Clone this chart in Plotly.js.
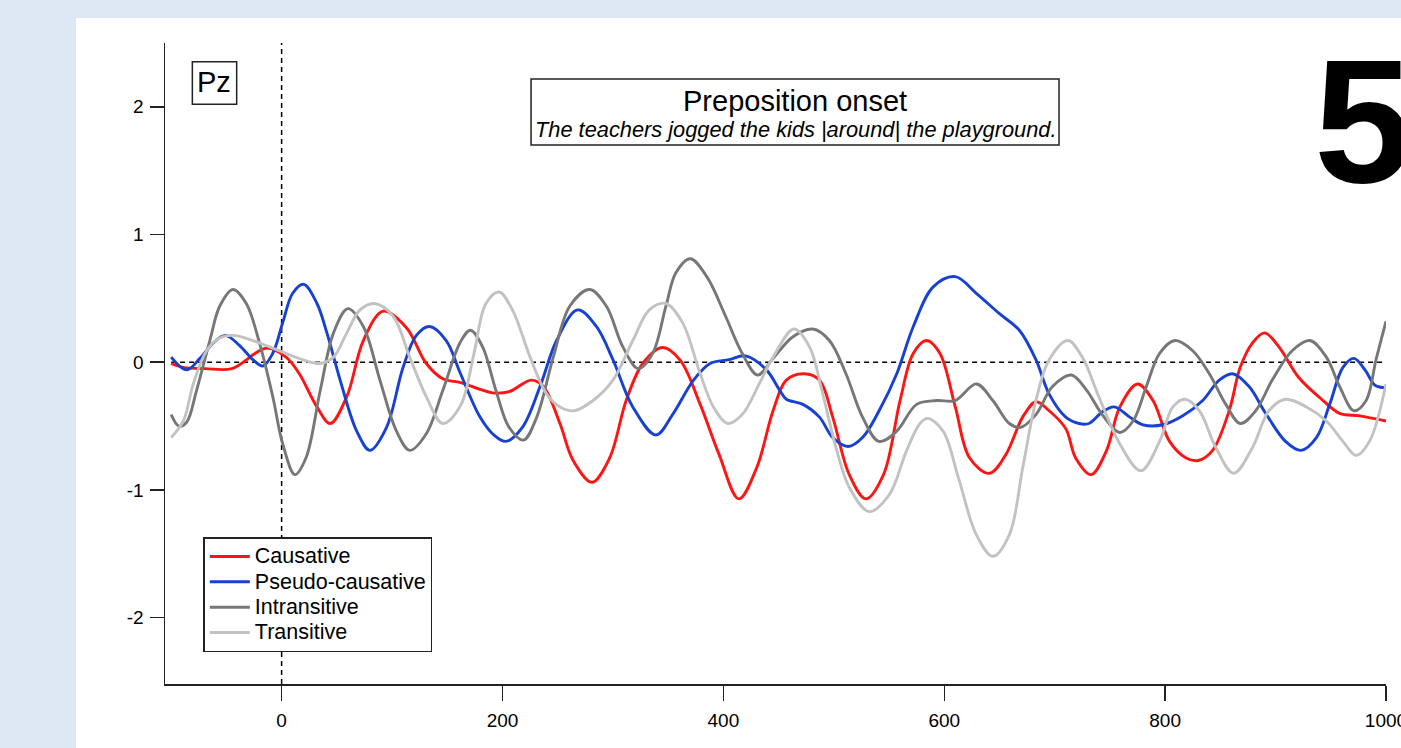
<!DOCTYPE html>
<html>
<head>
<meta charset="utf-8">
<script src="https://cdn.plot.ly/plotly-3.0.1.min.js"></script>
<style>
  html, body { margin:0; padding:0; width:1401px; height:748px; overflow:hidden; background:#dde8f4; }
  #panel { position:absolute; left:76px; top:18px; width:1325px; height:730px; background:#ffffff; }
  #chart { position:absolute; left:0; top:0; width:1401px; height:748px; }
</style>
</head>
<body>
<div id="panel"></div>
<div id="chart"></div>
<script>
// ---- data (ms, µV) ----
const causativeX = [-100,-89,-69,-45,-14,4,16,32,44,59,74,92,113,131,146,162,179,191,206,226,237,252,264,281,297,312,327,345,361,379,396,414,430,445,457,473,487,499,514,529,545,560,572,584,596,610,623,641,656,671,683,695,710,719,733,747,759,775,789,804,819,830,843,858,868,879,890,903,921,943,958,976,1000];
const causativeY = [-0.01,-0.04,-0.05,-0.05,0.11,0.04,-0.09,-0.35,-0.48,-0.27,0.17,0.40,0.27,-0.01,-0.13,-0.16,-0.21,-0.24,-0.23,-0.14,-0.19,-0.48,-0.77,-0.94,-0.75,-0.30,-0.01,0.115,0.015,-0.33,-0.72,-1.07,-0.83,-0.38,-0.14,-0.09,-0.14,-0.43,-0.88,-1.07,-0.88,-0.30,0.07,0.17,0.07,-0.35,-0.75,-0.87,-0.72,-0.43,-0.31,-0.38,-0.52,-0.75,-0.88,-0.69,-0.35,-0.17,-0.30,-0.62,-0.75,-0.77,-0.69,-0.38,-0.04,0.15,0.23,0.12,-0.12,-0.30,-0.40,-0.42,-0.46];

const pseudoX = [-100,-86,-74,-62,-51,-38,-26,-17,-8,1,10,20,32,41,53,68,80,95,110,122,134,149,162,179,191,203,218,234,249,268,285,300,318,339,354,373,388,405,420,439,451,457,472,487,499,513,526,541,557,572,590,610,629,650,668,683,695,710,722,731,743,754,768,780,798,816,834,849,861,876,891,909,923,937,949,961,971,981,990,1000];
const pseudoY = [0.04,-0.06,0.03,0.15,0.21,0.13,0.02,-0.03,0.07,0.31,0.54,0.61,0.46,0.23,-0.14,-0.54,-0.69,-0.51,-0.04,0.21,0.28,0.17,-0.09,-0.42,-0.56,-0.62,-0.51,-0.19,0.17,0.41,0.28,0.02,-0.35,-0.57,-0.41,-0.14,-0.01,0.02,0.05,-0.06,-0.22,-0.29,-0.33,-0.43,-0.59,-0.66,-0.59,-0.38,-0.09,0.28,0.59,0.67,0.54,0.38,0.25,0.02,-0.25,-0.43,-0.48,-0.48,-0.39,-0.35,-0.43,-0.49,-0.49,-0.42,-0.30,-0.14,-0.09,-0.19,-0.40,-0.62,-0.69,-0.59,-0.33,-0.04,0.03,-0.06,-0.18,-0.20];

const intransX = [-100,-93,-86,-77,-65,-56,-44,-32,-20,-8,1,12,22,35,47,60,74,89,104,116,131,146,162,171,182,194,206,219,231,246,261,279,294,309,323,336,348,357,370,385,402,417,431,445,463,481,496,511,526,541,557,575,593,610,629,644,659,669,683,698,715,729,743,759,771,783,795,809,825,840,855,868,882,897,915,931,946,958,971,982,991,1000];
const intransY = [-0.41,-0.50,-0.47,-0.22,0.17,0.44,0.57,0.46,0.15,-0.27,-0.64,-0.88,-0.75,-0.22,0.23,0.42,0.28,-0.14,-0.54,-0.69,-0.56,-0.22,0.16,0.25,0.12,-0.22,-0.51,-0.61,-0.43,0.04,0.44,0.57,0.44,0.12,-0.05,0.07,0.44,0.70,0.81,0.67,0.36,0.07,-0.10,0.03,0.20,0.26,0.17,-0.09,-0.43,-0.62,-0.54,-0.33,-0.30,-0.30,-0.17,-0.30,-0.48,-0.51,-0.41,-0.19,-0.10,-0.22,-0.41,-0.55,-0.46,-0.19,0.07,0.17,0.09,-0.09,-0.33,-0.48,-0.38,-0.14,0.09,0.17,0.04,-0.19,-0.38,-0.30,0.02,0.32];

const transX = [-100,-89,-80,-68,-56,-44,-26,-11,4,19,35,47,59,71,84,101,116,131,146,162,174,185,197,209,225,240,252,265,282,300,318,333,348,363,379,391,404,417,433,445,464,478,490,502,514,532,550,566,578,585,599,613,629,644,659,671,683,695,712,725,740,759,778,795,807,818,831,846,862,879,894,909,928,946,961,973,985,1000];
const transY = [-0.59,-0.46,-0.17,0.09,0.19,0.21,0.17,0.12,0.07,0.02,-0.01,0.04,0.23,0.41,0.46,0.36,0.04,-0.27,-0.48,-0.34,0.06,0.46,0.55,0.41,0.04,-0.25,-0.35,-0.38,-0.30,-0.14,0.17,0.41,0.46,0.31,-0.09,-0.35,-0.48,-0.41,-0.16,0.04,0.26,0.12,-0.25,-0.67,-0.98,-1.17,-1.04,-0.69,-0.48,-0.44,-0.54,-0.91,-1.35,-1.52,-1.35,-0.83,-0.30,0.02,0.17,0.04,-0.27,-0.64,-0.85,-0.62,-0.35,-0.29,-0.38,-0.67,-0.87,-0.67,-0.38,-0.29,-0.35,-0.46,-0.62,-0.73,-0.62,-0.17];

const seriesNames = ['Causative','Pseudo-causative','Intransitive','Transitive'];
const seriesColors = ['#ff1414','#1641d2','#777777','#c2c2c2'];
const xTickVals = [0,200,400,600,800,1000];
const xTickText = ['0','200','400','600','800','1000'];
const yTickVals = [-2,-1,0,1,2];
const yTickText = ['-2','-1','0','1','2'];
const electrodeLabel = 'Pz';
const titleText = 'Preposition onset';
const subtitleText = 'The teachers jogged the kids |around| the playground.';
const panelNumber = '5';

const FONT = 'Liberation Sans, Arial, Helvetica, sans-serif';
const xs = [causativeX, pseudoX, intransX, transX];
const ys = [causativeY, pseudoY, intransY, transY];

const traces = seriesNames.map((n, i) => ({
  type: 'scatter', mode: 'lines',
  name: '<span style="font-size:21.5px">' + n + '</span>',
  x: xs[i], y: ys[i],
  line: { color: seriesColors[i], width: 2.9, shape: 'spline', smoothing: 1 },
  hoverinfo: 'skip'
}));

const layout = {
  width: 1401, height: 748,
  margin: { l: 165, r: 15, t: 43, b: 64, pad: 0 },
  paper_bgcolor: 'rgba(0,0,0,0)',
  plot_bgcolor: 'rgba(0,0,0,0)',
  font: { family: FONT, color: '#000' },
  showlegend: true,
  legend: {
    x: 0.0314, y: 0.2289, xanchor: 'left', yanchor: 'top',
    bgcolor: '#ffffff', bordercolor: '#222', borderwidth: 1.5,
    font: { family: FONT, size: 17.2, color: '#000' },
    itemwidth: 40,
    tracegroupgap: 0
  },
  xaxis: {
    range: [-105.6, 1000], tickvals: xTickVals, ticktext: xTickText,
    showline: true, linecolor: '#222', linewidth: 1.5,
    ticks: 'outside', ticklen: 15, tickwidth: 1.5, tickcolor: '#222',
    ticklabelstandoff: 4, ticklabeloverflow: 'allow',
    tickfont: { family: FONT, size: 19, color: '#000' },
    showgrid: false, zeroline: false, fixedrange: true
  },
  yaxis: {
    range: [-2.52, 2.5], tickvals: yTickVals, ticktext: yTickText,
    showline: true, linecolor: '#222', linewidth: 1.5,
    ticks: 'outside', ticklen: 14, tickwidth: 1.5, tickcolor: '#222',
    ticklabelstandoff: 2,
    tickfont: { family: FONT, size: 19, color: '#000' },
    showgrid: false, zeroline: false, fixedrange: true
  },
  shapes: [
    { type: 'line', xref: 'x', yref: 'paper', x0: 0, x1: 0, y0: 0, y1: 1,
      line: { color: '#000', width: 1.5, dash: '5px,4px' }, layer: 'below' },
    { type: 'line', xref: 'paper', yref: 'y', x0: 0.005, x1: 1, y0: 0, y1: 0,
      line: { color: '#000', width: 1.5, dash: '5px,4px' }, layer: 'below' },
    { type: 'rect', xref: 'paper', yref: 'paper', x0: 0.0224, x1: 0.0587, y0: 0.9044, y1: 0.9708,
      line: { color: '#222', width: 1.5 }, fillcolor: '#ffffff', layer: 'below' },
    { type: 'rect', xref: 'paper', yref: 'paper', x0: 0.2998, x1: 0.7322, y0: 0.8409, y1: 0.9438,
      line: { color: '#222', width: 1.5 }, fillcolor: '#ffffff', layer: 'below' }
  ],
  annotations: [
    { text: electrodeLabel, xref: 'paper', yref: 'paper', x: 0.0405, y: 0.9395,
      xanchor: 'center', yanchor: 'middle', showarrow: false,
      font: { family: FONT, size: 29, color: '#000' } },
    { text: titleText, xref: 'paper', yref: 'paper', x: 0.516, y: 0.9095,
      xanchor: 'center', yanchor: 'middle', showarrow: false,
      font: { family: FONT, size: 29, color: '#000' } },
    { text: '<i>' + subtitleText + '</i>', xref: 'paper', yref: 'paper', x: 0.516, y: 0.8643,
      xanchor: 'center', yanchor: 'middle', showarrow: false,
      font: { family: FONT, size: 21.8, color: '#000' } },
    { text: '<b>' + panelNumber + '</b>', xref: 'paper', yref: 'paper', x: 0.939, y: 0.8783,
      xanchor: 'left', yanchor: 'middle', showarrow: false,
      font: { family: FONT, size: 177, color: '#000' } }
  ]
};

Plotly.newPlot('chart', traces, layout, { displayModeBar: false, staticPlot: true });
</script>
</body>
</html>
